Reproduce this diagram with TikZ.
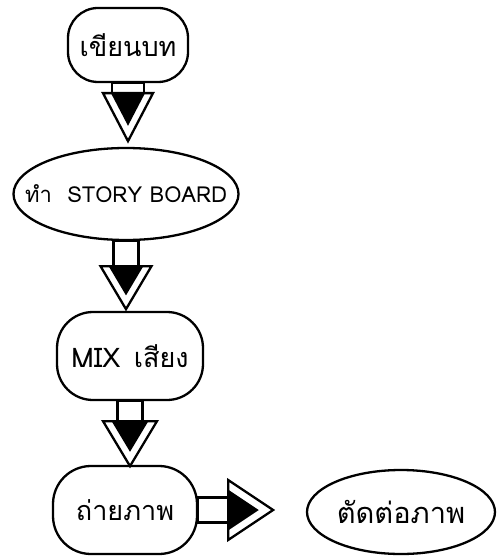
\documentclass[tikz,border=0pt]{standalone}
\usepackage{fontspec}
\newfontfamily\thaifont[Script=Thai]{Loma}
\usetikzlibrary{shapes.geometric}
\tikzset{
  ln/.style={line width=2.3pt, draw=black},
  stad/.style={ln, rectangle, inner sep=0pt, font=\thaifont\fontsize{24}{28}\selectfont},
  ell/.style={ln, ellipse, inner sep=0pt, font=\thaifont\fontsize{24}{28}\selectfont},
  arrline/.style={line width=2.3pt, draw=black, fill=white, line join=miter}
}
\newcommand{\blockarr}[4]{%
  \draw[arrline] (-#1,0) rectangle (#1,#2);
  \draw[arrline] (-#3,#2) -- (#3,#2) -- (0,#2+#4) -- cycle;
  \fill[black] (-0.68*#3,#2) -- (0.68*#3,#2) -- (0,#2+0.68*#4) -- cycle;
}
\begin{document}
\begin{tikzpicture}[x=1pt,y=-1pt]
\useasboundingbox (0,0) rectangle (496,556);
\node[stad, rounded corners=30pt, minimum width=120pt, minimum height=74pt] (n1) at (128,45) {\makebox[0pt]{\fontsize{27}{32}\selectfont เขียนบท}};
\node[ell, minimum width=225pt, minimum height=92pt] (n2) at (126,194) {\makebox[0pt]{\fontsize{22}{26}\selectfont ทำ\hspace{0.7em}STORY BOARD}};
\node[stad, rounded corners=36pt, minimum width=146pt, minimum height=88pt] (n3) at (130,356) {\makebox[0pt]{\fontsize{27}{32}\selectfont MIX\hspace{0.5em}เสียง}};
\node[stad, rounded corners=38pt, minimum width=144pt, minimum height=88pt] (n4) at (125,510) {\makebox[0pt]{\fontsize{27}{32}\selectfont ถ่ายภาพ}};
\node[ell, minimum width=188pt, minimum height=84pt] (n5) at (401,512) {\makebox[0pt]{\fontsize{29}{34}\selectfont ตัดต่อภาพ}};
\begin{scope}[shift={(n1.south)}, x={(1pt,0)}, y={(0,-1pt)}]
  \blockarr{16}{10}{25}{48}
\end{scope}
\begin{scope}[shift={(n2.south)}, x={(1pt,0)}, y={(0,-1pt)}]
  \blockarr{12.5}{25}{25.5}{43}
\end{scope}
\begin{scope}[shift={(n3.south)}, x={(1pt,0)}, y={(0,-1pt)}]
  \blockarr{12.5}{20}{27}{45}
\end{scope}
\begin{scope}[shift={(n4.east)}, x={(0,1pt)}, y={(1pt,0)}]
  \blockarr{12.5}{30}{30}{45}
\end{scope}
\end{tikzpicture}
\end{document}
